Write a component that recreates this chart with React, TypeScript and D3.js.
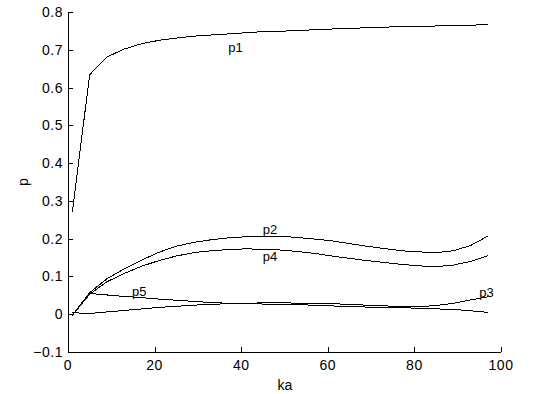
import React from "react";
import * as d3 from "d3";

const ka = [1, 5, 9, 13, 17, 21, 25, 29, 33, 37, 41, 45, 49, 53, 57, 61, 65, 69, 73, 77, 81, 85, 89, 93, 97];
const p1 = [0.27, 0.634, 0.681, 0.702, 0.716, 0.725, 0.731, 0.736, 0.739, 0.742, 0.745, 0.748, 0.749, 0.751, 0.753, 0.755, 0.757, 0.758, 0.76, 0.761, 0.762, 0.763, 0.764, 0.765, 0.767];
const p2 = [-0.003, 0.057, 0.094, 0.12, 0.143, 0.164, 0.18, 0.19, 0.197, 0.202, 0.205, 0.207, 0.207, 0.203, 0.199, 0.194, 0.187, 0.18, 0.174, 0.168, 0.165, 0.163, 0.168, 0.182, 0.207];
const p3 = [0.004, 0.002, 0.006, 0.01, 0.014, 0.018, 0.021, 0.024, 0.026, 0.028, 0.029, 0.03, 0.031, 0.029, 0.028, 0.028, 0.026, 0.024, 0.022, 0.021, 0.02, 0.023, 0.029, 0.038, 0.046];
const p4 = [-0.003, 0.053, 0.086, 0.108, 0.127, 0.142, 0.154, 0.163, 0.168, 0.171, 0.173, 0.172, 0.17, 0.166, 0.161, 0.154, 0.148, 0.142, 0.137, 0.132, 0.128, 0.126, 0.13, 0.14, 0.155];
const p5 = [-0.003, 0.055, 0.051, 0.047, 0.044, 0.04, 0.037, 0.034, 0.031, 0.029, 0.028, 0.027, 0.027, 0.025, 0.024, 0.022, 0.02, 0.019, 0.018, 0.017, 0.016, 0.014, 0.013, 0.009, 0.005];

const seriesNames = ["p1", "p2", "p3", "p4", "p5"];
const seriesValues = [p1, p2, p3, p4, p5];
const labelPos: Record<string, [number, number]> = {
  p1: [37, 0.694],
  p2: [45, 0.212],
  p3: [95, 0.046],
  p4: [45, 0.14],
  p5: [14.8, 0.047],
};

const xTicks = [0, 20, 40, 60, 80, 100];
const yTicks = [-0.1, 0, 0.1, 0.2, 0.3, 0.4, 0.5, 0.6, 0.7, 0.8];

export default function App() {
  const W = 547, H = 394;
  const x = d3.scaleLinear().domain([0, 100]).range([68, 501]);
  const y = d3.scaleLinear().domain([-0.1, 0.8]).range([352, 12]);
  const line = d3
    .line<number>()
    .x((_, i) => x(ka[i]))
    .y((d) => y(d));
  const font = "Arial, 'Liberation Sans', Helvetica, sans-serif";
  const tick = 5;
  return (
    <svg
      width={W}
      height={H}
      style={{ position: "absolute", left: 0, top: 0, background: "#fff" }}
      fontFamily={font}
    >
      <rect x={0} y={0} width={W} height={H} fill="#fff" />
      <line x1={x(0)} y1={y(-0.1) + 0.5} x2={x(100)} y2={y(-0.1) + 0.5} stroke="#000" />
      <line x1={x(0) + 0.5} y1={y(-0.1)} x2={x(0) + 0.5} y2={y(0.8)} stroke="#000" />
      {xTicks.map((t) => (
        <g key={"x" + t}>
          <line x1={Math.round(x(t)) + 0.5} x2={Math.round(x(t)) + 0.5} y1={y(-0.1)} y2={y(-0.1) - tick} stroke="#000" />
          <text x={x(t)} y={370} textAnchor="middle" fontSize={14} letterSpacing={0.5}>
            {t}
          </text>
        </g>
      ))}
      {yTicks.map((t) => (
        <g key={"y" + t}>
          <line x1={x(0)} x2={x(0) + tick} y1={Math.round(y(t)) + 0.5} y2={Math.round(y(t)) + 0.5} stroke="#000" />
          <text x={63} y={y(t) + 5} textAnchor="end" fontSize={14} letterSpacing={0.5}>
            {t === 0 ? "0" : d3.format(".1f")(t)}
          </text>
        </g>
      ))}
      <text x={285} y={390} textAnchor="middle" fontSize={14}>
        ka
      </text>
      <text transform="translate(28,182) rotate(-90)" textAnchor="middle" fontSize={14}>
        p
      </text>
      {seriesValues.map((vals, i) => (
        <path
          key={seriesNames[i]}
          d={line(vals) || ""}
          fill="none"
          stroke="#000"
          strokeWidth={1}
          shapeRendering="crispEdges"
        />
      ))}
      {seriesNames.map((n) => (
        <text key={"l" + n} x={x(labelPos[n][0])} y={y(labelPos[n][1])} fontSize={13}>
          {n}
        </text>
      ))}
    </svg>
  );
}
